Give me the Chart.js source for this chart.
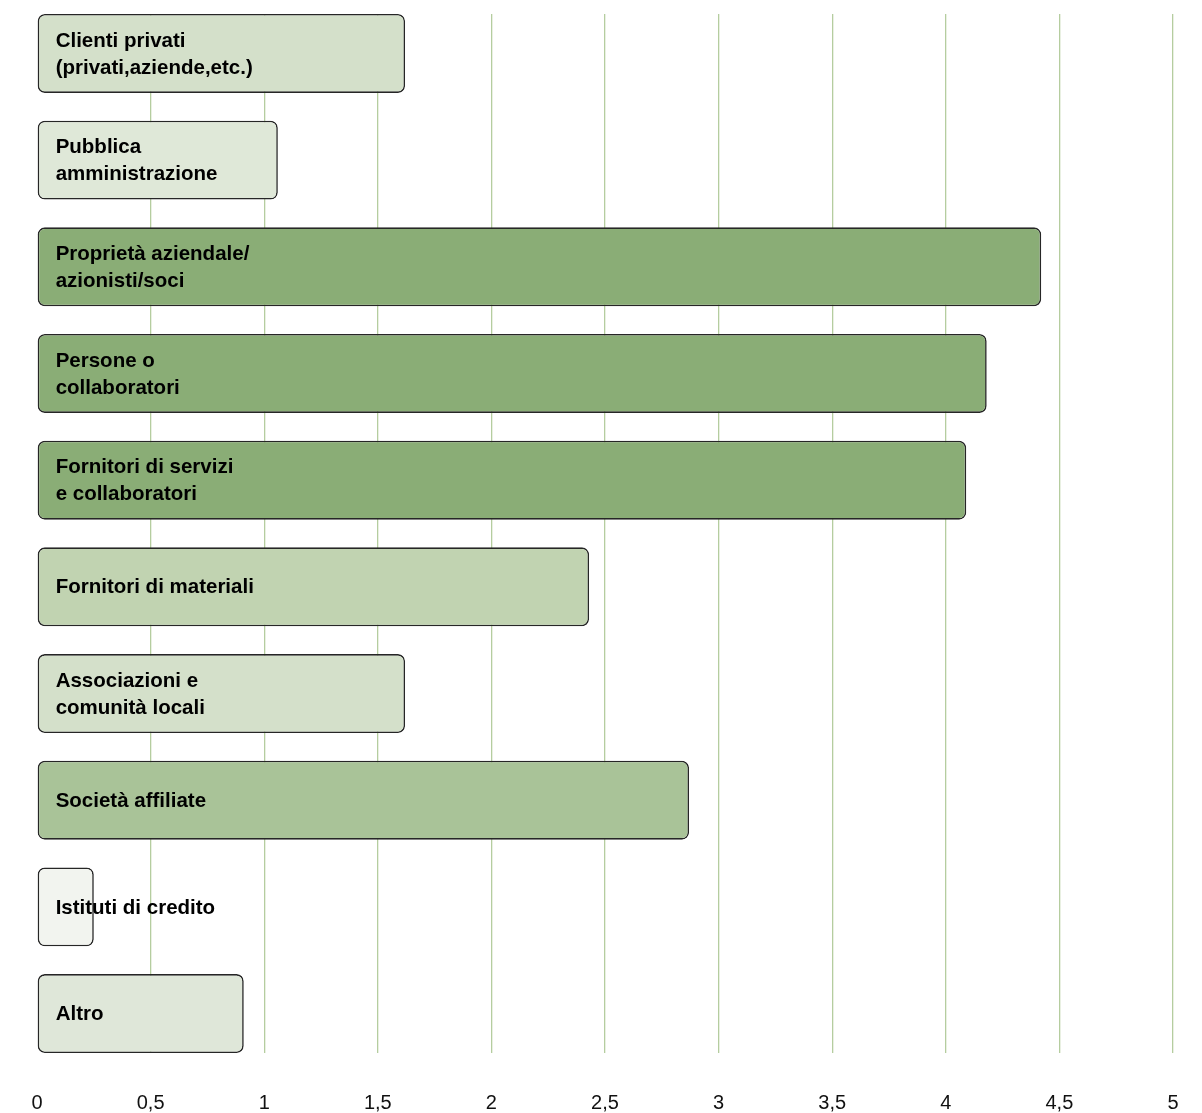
<!DOCTYPE html>
<html lang="it">
<head>
<meta charset="utf-8">
<script src="https://cdn.jsdelivr.net/npm/chart.js@4/dist/chart.umd.min.js"></script>
<style>
  html, body { margin: 0; padding: 0; background: #fff; }
  #wrap { width: 1202px; height: 1113px; position: relative; }
</style>
</head>
<body>
<div id="wrap"><canvas id="barChart"></canvas></div>
<script>
// ── Dati ─────────────────────────────────────────────────────
const LABELS = [
  ['Clienti privati', '(privati,aziende,etc.)'],
  ['Pubblica', 'amministrazione'],
  ['Proprietà aziendale/', 'azionisti/soci'],
  ['Persone o', 'collaboratori'],
  ['Fornitori di servizi', 'e collaboratori'],
  ['Fornitori di materiali'],
  ['Associazioni e', 'comunità locali'],
  ['Società affiliate'],
  ['Istituti di credito'],
  ['Altro'],
];
const VALUES = [1.62, 1.06, 4.42, 4.18, 4.09, 2.43, 1.62, 2.87, 0.25, 0.91];
const COLORS = ['#d4e0ca', '#dfe8d8', '#8aad76', '#8aad76', '#8aad76',
                '#c1d3b1', '#d4e0ca', '#a9c398', '#f2f4ef', '#dfe7d9'];
const X_TICKS = [0, 0.5, 1, 1.5, 2, 2.5, 3, 3.5, 4, 4.5, 5];

const GRID_COLOR = '#b5cd9f';
const FONT = "'Liberation Sans', Arial, sans-serif";

// ── Etichette dentro le barre ────────────────────────────────
const barLabels = {
  id: 'barLabels',
  afterDatasetsDraw(chart) {
    const ctx = chart.ctx;
    const meta = chart.getDatasetMeta(0);
    ctx.save();
    ctx.fillStyle = '#000';
    ctx.font = `bold 20.5px ${FONT}`;
    ctx.textBaseline = 'middle';
    meta.data.forEach((bar, i) => {
      const lines = LABELS[i];
      const lh = 27;
      const y0 = bar.y + 1 - (lines.length - 1) * lh / 2;
      lines.forEach((t, k) => ctx.fillText(t, bar.base + 18, y0 + k * lh));
    });
    ctx.restore();
  },
};

new Chart(document.getElementById('barChart'), {
  type: 'bar',
  data: {
    datasets: [{
      data: VALUES.map((v, i) => ({ x: v, y: i })),
      backgroundColor: COLORS,
      borderColor: '#262626',
      borderWidth: 1.6,
      borderSkipped: false,
      borderRadius: 7,
      barPercentage: 0.74,
      categoryPercentage: 1,
    }],
  },
  options: {
    indexAxis: 'y',
    responsive: true, maintainAspectRatio: false,
    animation: false,
    layout: { padding: { top: 14, left: 37, right: 29, bottom: 0 } },
    plugins: { legend: { display: false }, tooltip: { enabled: false } },
    scales: {
      y: {
        type: 'linear', reverse: true, min: -0.37, max: 9.37,
        offset: false, display: false,
        afterBuildTicks: s => { s.ticks = LABELS.map((_, i) => ({ value: i })); },
      },
      x: {
        type: 'linear', min: 0, max: 5,
        afterBuildTicks: s => { s.ticks = X_TICKS.map(v => ({ value: v })); },
        afterFit: s => { s.height = 60; s.paddingLeft = 0; s.paddingRight = 0; },
        border: { display: false },
        grid: {
          color: c => (c.tick && c.tick.value === 0 ? 'rgba(0,0,0,0)' : GRID_COLOR),
          lineWidth: 1.3, drawTicks: false,
        },
        ticks: {
          padding: 38, color: '#111',
          font: { family: FONT, size: 20 },
          maxRotation: 0,
          callback: v => String(v).replace('.', ','),
        },
      },
    },
  },
  plugins: [barLabels],
});
</script>
</body>
</html>
